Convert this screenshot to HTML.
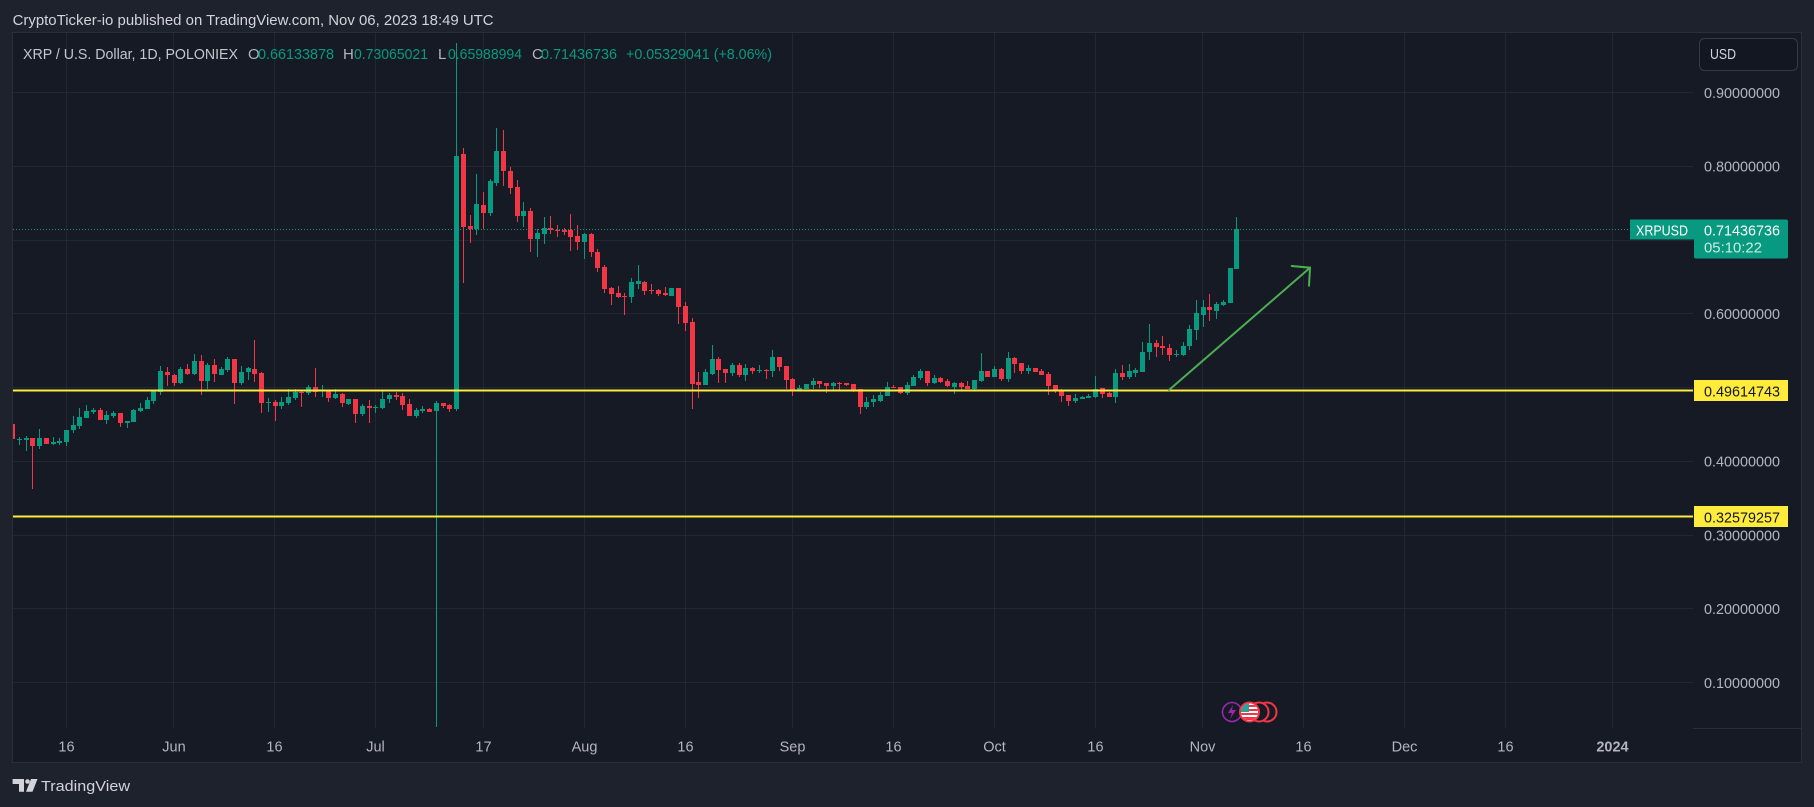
<!DOCTYPE html>
<html><head><meta charset="utf-8">
<style>
html,body{margin:0;padding:0;background:#1e222d;width:1814px;height:807px;overflow:hidden}
svg{display:block}
text{font-family:"Liberation Sans",sans-serif}
</style></head>
<body>
<svg id="s" width="1814" height="807" viewBox="0 0 1814 807">
<defs>
  <clipPath id="pc"><rect x="13" y="33" width="1680" height="695"/></clipPath>
  <clipPath id="fc"><circle cx="1249.5" cy="712" r="8.5"/></clipPath>
</defs>
<rect width="1814" height="807" fill="#1e222d"/>
<rect x="12.5" y="32.5" width="1789" height="730" fill="#161a25" stroke="#2a2e39"/>

<!-- grid -->
<g stroke="#232733" stroke-width="1" shape-rendering="crispEdges">
  <line x1="13" x2="1693" y1="92.5" y2="92.5"/>
  <line x1="13" x2="1693" y1="166.5" y2="166.5"/>
  <line x1="13" x2="1693" y1="240.5" y2="240.5"/>
  <line x1="13" x2="1693" y1="313.5" y2="313.5"/>
  <line x1="13" x2="1693" y1="387.5" y2="387.5"/>
  <line x1="13" x2="1693" y1="461.5" y2="461.5"/>
  <line x1="13" x2="1693" y1="535.5" y2="535.5"/>
  <line x1="13" x2="1693" y1="608.5" y2="608.5"/>
  <line x1="13" x2="1693" y1="682.5" y2="682.5"/>
  <line y1="33" y2="728" x1="66.5" x2="66.5"/>
  <line y1="33" y2="728" x1="173.5" x2="173.5"/>
  <line y1="33" y2="728" x1="274.5" x2="274.5"/>
  <line y1="33" y2="728" x1="375.5" x2="375.5"/>
  <line y1="33" y2="728" x1="483.5" x2="483.5"/>
  <line y1="33" y2="728" x1="584.5" x2="584.5"/>
  <line y1="33" y2="728" x1="685.5" x2="685.5"/>
  <line y1="33" y2="728" x1="792.5" x2="792.5"/>
  <line y1="33" y2="728" x1="893.5" x2="893.5"/>
  <line y1="33" y2="728" x1="994.5" x2="994.5"/>
  <line y1="33" y2="728" x1="1095.5" x2="1095.5"/>
  <line y1="33" y2="728" x1="1202.5" x2="1202.5"/>
  <line y1="33" y2="728" x1="1303.5" x2="1303.5"/>
  <line y1="33" y2="728" x1="1404.5" x2="1404.5"/>
  <line y1="33" y2="728" x1="1505.5" x2="1505.5"/>
  <line y1="33" y2="728" x1="1612.5" x2="1612.5"/>
  <line x1="1693" x2="1801" y1="728.5" y2="728.5" stroke="#2a2e39"/>
</g>

<!-- candles -->
<g id="candles" clip-path="url(#pc)" shape-rendering="crispEdges"></g>

<!-- horizontal levels -->
<g clip-path="url(#pc)">
  <line x1="13" x2="1694" y1="390.5" y2="390.5" stroke="#ffeb3b" stroke-width="2"/>
  <line x1="13" x2="1694" y1="516.5" y2="516.5" stroke="#ffeb3b" stroke-width="2"/>
</g>
<line x1="13" x2="1630" y1="229.5" y2="229.5" stroke="#089981" stroke-width="1" stroke-dasharray="1 2"/>

<!-- arrow -->
<g stroke="#4caf50" stroke-width="2" fill="none" stroke-linecap="round">
  <line x1="1169" y1="390" x2="1310" y2="267.7"/>
  <polyline points="1291.7,266 1310,267.7 1309,285.7"/>
</g>

<!-- header -->
<text x="12.6" y="25" font-size="15" fill="#d1d4dc" textLength="481" lengthAdjust="spacingAndGlyphs">CryptoTicker-io published on TradingView.com, Nov 06, 2023 18:49 UTC</text>

<!-- legend -->
<g font-size="15">
  <text x="23" y="59" fill="#c3c6ce" textLength="215" lengthAdjust="spacingAndGlyphs">XRP / U.S. Dollar, 1D, POLONIEX</text>
  <text x="248" y="59" fill="#b2b5be">O</text>
  <text x="258" y="59" fill="#089981" textLength="76" lengthAdjust="spacingAndGlyphs">0.66133878</text>
  <text x="343" y="59" fill="#b2b5be">H</text>
  <text x="354" y="59" fill="#089981" textLength="74" lengthAdjust="spacingAndGlyphs">0.73065021</text>
  <text x="438" y="59" fill="#b2b5be">L</text>
  <text x="448" y="59" fill="#089981" textLength="74" lengthAdjust="spacingAndGlyphs">0.65988994</text>
  <text x="532" y="59" fill="#b2b5be">C</text>
  <text x="541" y="59" fill="#089981" textLength="76" lengthAdjust="spacingAndGlyphs">0.71436736</text>
  <text x="626" y="59" fill="#089981" textLength="146" lengthAdjust="spacingAndGlyphs">+0.05329041 (+8.06%)</text>
</g>

<!-- USD button -->
<rect x="1699.5" y="38.5" width="98" height="32" rx="5" fill="#131722" stroke="#363a45"/>
<text x="1710" y="59" font-size="15" fill="#d1d4dc" textLength="26" lengthAdjust="spacingAndGlyphs">USD</text>

<!-- price axis labels -->
<g font-size="15" fill="#b2b5be">
  <text x="1704" y="98" textLength="76" lengthAdjust="spacingAndGlyphs">0.90000000</text>
  <text x="1704" y="171.7" textLength="76" lengthAdjust="spacingAndGlyphs">0.80000000</text>
  <text x="1704" y="319.2" textLength="76" lengthAdjust="spacingAndGlyphs">0.60000000</text>
  <text x="1704" y="466.7" textLength="76" lengthAdjust="spacingAndGlyphs">0.40000000</text>
  <text x="1704" y="540.5" textLength="76" lengthAdjust="spacingAndGlyphs">0.30000000</text>
  <text x="1704" y="614.2" textLength="76" lengthAdjust="spacingAndGlyphs">0.20000000</text>
  <text x="1704" y="688" textLength="76" lengthAdjust="spacingAndGlyphs">0.10000000</text>
</g>

<!-- current price label -->
<rect x="1630" y="219.5" width="66" height="20" fill="#089981"/>
<rect x="1694" y="219.5" width="94" height="39" rx="2" fill="#089981"/>
<text x="1636" y="235.5" font-size="15" fill="#ffffff" textLength="52" lengthAdjust="spacingAndGlyphs">XRPUSD</text>
<text x="1704" y="235.5" font-size="15" fill="#ffffff" textLength="76" lengthAdjust="spacingAndGlyphs">0.71436736</text>
<text x="1704" y="252.5" font-size="15" fill="#c9ece4" textLength="58" lengthAdjust="spacingAndGlyphs">05:10:22</text>

<!-- yellow labels -->
<rect x="1694" y="380" width="94" height="21" fill="#ffeb3b"/>
<text x="1704" y="396.5" font-size="15" fill="#131722" textLength="76" lengthAdjust="spacingAndGlyphs">0.49614743</text>
<rect x="1694" y="506" width="94" height="21" fill="#ffeb3b"/>
<text x="1704" y="522.5" font-size="15" fill="#131722" textLength="76" lengthAdjust="spacingAndGlyphs">0.32579257</text>

<!-- time axis -->
<g font-size="14.5" fill="#b2b5be" text-anchor="middle">
  <text x="66.5" y="751.5">16</text>
  <text x="174" y="751.5">Jun</text>
  <text x="274.5" y="751.5">16</text>
  <text x="375.5" y="751.5">Jul</text>
  <text x="483.5" y="751.5">17</text>
  <text x="584.5" y="751.5">Aug</text>
  <text x="685.5" y="751.5">16</text>
  <text x="792.5" y="751.5">Sep</text>
  <text x="893.5" y="751.5">16</text>
  <text x="994.5" y="751.5">Oct</text>
  <text x="1095.5" y="751.5">16</text>
  <text x="1202.5" y="751.5">Nov</text>
  <text x="1303.5" y="751.5">16</text>
  <text x="1404.5" y="751.5">Dec</text>
  <text x="1505.5" y="751.5">16</text>
  <text x="1612.5" y="751.5" font-weight="bold">2024</text>
</g>

<!-- events -->
<g>
  <circle cx="1232" cy="712" r="9.5" fill="#161a25" stroke="#9c27b0" stroke-width="1.5"/>
  <path d="M1233,705 L1228,713 L1232,713 L1230,719 L1236,710 L1232,710 Z" fill="#9c27b0"/>
  <circle cx="1267" cy="712" r="9.5" fill="#161a25" stroke="#f23645" stroke-width="2"/>
  <circle cx="1259" cy="712" r="9.5" fill="#161a25" stroke="#f23645" stroke-width="2"/>
  <circle cx="1249.5" cy="712" r="9.5" fill="#ffffff" stroke="#f23645" stroke-width="2"/>
  <g clip-path="url(#fc)">
    <rect x="1240" y="703" width="20" height="18" fill="#ffffff"/>
    <rect x="1240" y="705" width="20" height="2" fill="#f23645"/>
    <rect x="1240" y="709" width="20" height="2" fill="#f23645"/>
    <rect x="1240" y="713" width="20" height="2" fill="#f23645"/>
    <rect x="1240" y="717" width="20" height="3" fill="#f23645"/>
    <rect x="1240" y="703" width="9" height="9" fill="#26a69a"/>
  </g>
</g>

<!-- logo -->
<g fill="#d1d4dc">
  <path d="M12.6,779 H24 V791.7 H19 V784 H12.6 Z"/>
  <circle cx="27.5" cy="781.5" r="2.3"/>
  <path d="M31,779 H37.5 L32.5,791.7 H26 Z"/>
</g>
<text x="41" y="791" font-size="15" fill="#d1d4dc" textLength="89" lengthAdjust="spacingAndGlyphs">TradingView</text>
</svg>

<script>
(function(){
var segs=[
[-8,330,"r 282 326 282 326|g 326 328 322 345|g 323 330 318 362|r 324 347 324 476|g 324 347 297 356|r 324 341 324 341|g 336 341 321 345|g 333 339 324 345|g 300 336 300 347|g 285 300 258 308|g 261 288 234 296|g 243 264 225 264|g 239 245 233 252|r 240 269 234 269|g 255 269 243 281|g 249 258 242 263|r 249 278 249 291|g 273 278 273 293|g 240 275 237 275|g 234 243 219 245|g 210 236 201 236|g 183 212 183 221|g 123 185 108 194|r 126 135 111 167|r 135 158 132 167|g 117 159 111 162|r 117 132 102 135|g 93 132 72 135|r 93 153 75 195|g 105 153 99 177|r 105 132 87 156|g 117 135 111 135|g 87 120 81 126|r 87 159 87 221|g 126 159 108 165|g 114 126 111 150|r 117 132 30 156|r 129 219 126 249|g 216 220 204 246|r 216 228 210 273|g 216 228 201 237|g 201 219 177 225|g 186 204 177 210|r 185 188 180 231|g 171 189 165 195|r 171 185 114 201|g 180 183 165 201|r 180 204 180 216|g 192 204 177 207|r 192 219 189 231|g 207 222 207 225|r 207 252 207 279|g 228 252 222 258|r 228 234 210 279|g 230 232 225 249|g 207 234 180 237|g 195 207 189 219|r 195 201 186 210|r 198 225 189 240|r 222 258 207 258|g 240 258 234 264|g 237 243 228 249|r 237 246 234 246|g 219 243 213 1191|r 219 228 219 234|r 225 237 222 246"],
[58,50,"g 318 1077 -21 1083|r 312 530 295 700|r 528 538 495 580|g 462 538 372 556|r 465 488 426 538|g 393 488 387 497|g 303 398 234 407|r 303 362 240 407|r 363 413 351 431|r 411 497 390 515|g 483 497 456 530|r 483 566 474 605|g 549 566 536 620|g 534 551 501 581|r 534 541 498 551|r 539 542 524 560|r 539 546 534 554|r 539 560 491 602|r 558 575 525 599|g 551 575 548 626|r 551 605 548 620|r 605 653 598 665|r 651 716 645 728|r 713 731 710 764|r 729 741 707 743|r 737 740 728 794|g 695 740 684 758|g 692 701 645 716|r 695 722 692 734|r 719 722 702 731|r 719 731 716 737|r 729 734 710 737|g 713 737 713 737|r 713 770 713 821|r 767 818 755 842|r 816 1002 803 1077|r 995 1004 965 1044|g 966 1004 956 1004|g 927 972 884 975|r 927 960 921 998|r 957 968 957 1000|g 944 968 940 978|r 944 974 938 980"],
[101,340,"g 84 105 72 122|r 84 94 81 102|g 91 93 75 100|r 89 92 87 117|g 51 93 30 110|r 51 81 51 93|r 78 120 78 147|r 117 150 114 168|g 144 150 135 153|g 132 147 132 147|g 123 135 114 147|r 123 132 123 144|r 129 138 129 159|g 129 138 126 150|r 128 130 126 153|r 129 135 129 138|r 132 150 132 156|r 147 201 147 222|g 186 201 171 207|g 177 186 165 201|g 165 183 156 186|g 141 168 126 168|r 141 143 135 143|r 141 159 141 162|g 135 159 126 165|g 111 138 105 138|g 93 114 87 120|r 93 129 93 138|g 114 129 105 132|r 114 126 111 129|r 123 138 117 141|g 129 141 126 162|r 129 141 126 150|r 138 147 123 147|g 120 147 120 153|g 93 123 39 126|r 93 111 93 111|g 87 111 78 111"],
[139,190,"r 537 567 534 573|g 504 567 486 576|r 504 522 501 549|r 519 543 519 552|g 534 543 525 552|r 534 546 534 546|r 543 555 537 555|r 552 588 546 615|r 585 600 585 609|r 600 618 597 636|r 615 633 615 648|g 624 633 612 639|g 621 627 618 628|g 618 624 612 624|g 597 621 558 624|r 594 612 594 624|r 609 621 606 621|g 549 621 537 639|r 549 561 525 570|g 543 561 522 567|g 540 549 534 561|g 486 546 456 546|g 459 486 402 510|r 459 471 450 501|r 468 474 438 495|r 474 495 462 513|g 492 495 480 501|g 468 495 456 498|g 417 468 405 480|g 369 420 330 450|g 351 375 330 411|r 351 360 312 393|g 342 363 336 387|g 336 345 330 348|g 234 339 234 339|g 117 237 81 237"]
];
var h='';
segs.forEach(function(sg){
  var d0=sg[0],off=sg[1];
  sg[2].split('|').forEach(function(e,i){
    var p=e.trim().split(/\s+/);
    var c=p[0]==='g'?'#089981':'#f23645';
    var v=p.slice(1).map(function(x){return off+(+x)/3;});
    var d=d0+i;
    var xr=Math.round(66+d*6.726);
    var wt=Math.round(v[2]),wb=Math.round(v[3]);
    h+='<rect x="'+xr+'" y="'+wt+'" width="1" height="'+Math.max(1,wb-wt)+'" fill="'+c+'"/>';
    var t=Math.round(v[0]),b=Math.round(v[1]);
    h+='<rect x="'+(xr-2)+'" y="'+t+'" width="5" height="'+Math.max(1,b-t)+'" fill="'+c+'"/>';
  });
});
document.getElementById('candles').innerHTML=h;
})();
</script>
</body></html>
